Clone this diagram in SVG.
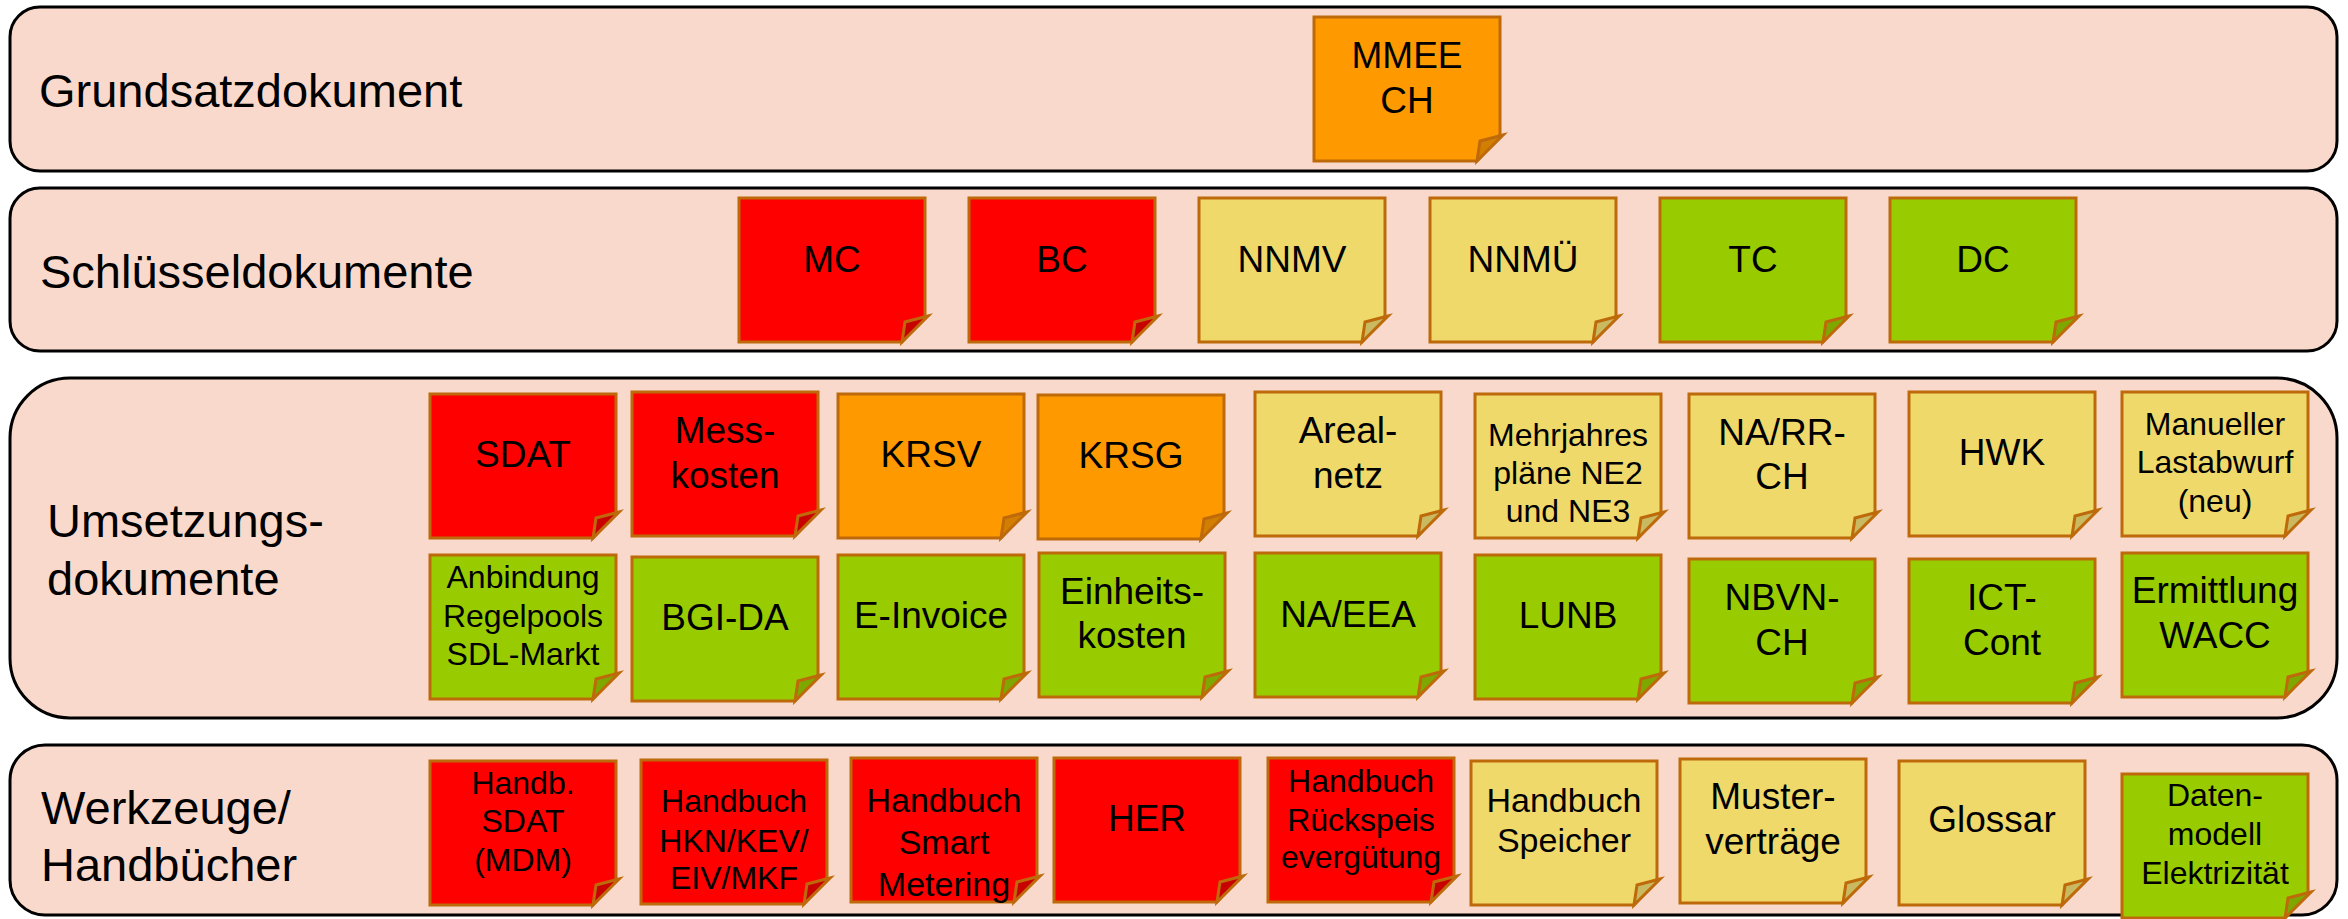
<svg xmlns="http://www.w3.org/2000/svg" xmlns:xlink="http://www.w3.org/1999/xlink" width="2348" height="919" viewBox="0 0 2348 919">
<style>
.band{fill:#F8D9CB;stroke:#000;stroke-width:3}
.lbl{font-family:"Liberation Sans",Arial,sans-serif;font-size:47px;fill:#000}
.t{font-family:"Liberation Sans",Arial,sans-serif;font-size:37px;fill:#000;text-anchor:middle}
.s{font-size:32px}
.m{font-size:34px}
.pg,.fd{stroke:#BE6A0A;stroke-width:3;stroke-linejoin:miter}
.red .p{fill:#FF0000}.red .f{fill:#C80000}
.org .p{fill:#FF9900}.org .f{fill:#D27E00}
.yel .p{fill:#EFD96A}.yel .f{fill:#C9BA62}
.grn .p{fill:#99CC00}.grn .f{fill:#7EA800}
</style>
<defs>
<path id="page" class="pg" d="M0,0 H186 V118 L163,144 H0 Z"/>
<path id="fold" class="fd" d="M189,118 L166,124 L163,144 Z"/>
</defs>
<g id="bands">
<rect id="band-grundsatz" class="band" x="10" y="7" width="2327" height="164" rx="30"/>
<rect id="band-schluessel" class="band" x="10" y="188" width="2327" height="163" rx="30"/>
<rect id="band-umsetzung" class="band" x="10" y="378" width="2327" height="340" rx="60"/>
<rect id="band-werkzeuge" class="band" x="10" y="745" width="2327" height="170" rx="35"/>
</g>
<g id="labels">
<text class="lbl" x="39" y="107">Grundsatzdokument</text>
<text class="lbl" x="40" y="288">Schlüsseldokumente</text>
<text class="lbl" x="47" y="537">Umsetzungs-</text>
<text class="lbl" x="47" y="595">dokumente</text>
<text class="lbl" x="41" y="824">Werkzeuge/</text>
<text class="lbl" x="41" y="881">Handbücher</text>
</g>
<g id="connectors"/>
<g id="n-mmee" class="org" transform="translate(1314,17)"><use class="p" href="#page"/><use class="f" href="#fold"/><text class="t" x="93" y="51">MMEE</text><text class="t" x="93" y="96">CH</text></g>

<g id="n-mc" class="red" transform="translate(739,198)"><use class="p" href="#page"/><use class="f" href="#fold"/><text class="t" x="93" y="74">MC</text></g>
<g id="n-bc" class="red" transform="translate(969,198)"><use class="p" href="#page"/><use class="f" href="#fold"/><text class="t" x="93" y="74">BC</text></g>
<g id="n-nnmv" class="yel" transform="translate(1199,198)"><use class="p" href="#page"/><use class="f" href="#fold"/><text class="t" x="93" y="74">NNMV</text></g>
<g id="n-nnmue" class="yel" transform="translate(1430,198)"><use class="p" href="#page"/><use class="f" href="#fold"/><text class="t" x="93" y="74">NNMÜ</text></g>
<g id="n-tc" class="grn" transform="translate(1660,198)"><use class="p" href="#page"/><use class="f" href="#fold"/><text class="t" x="93" y="74">TC</text></g>
<g id="n-dc" class="grn" transform="translate(1890,198)"><use class="p" href="#page"/><use class="f" href="#fold"/><text class="t" x="93" y="74">DC</text></g>

<g id="n-sdat" class="red" transform="translate(430,394)"><use class="p" href="#page"/><use class="f" href="#fold"/><text class="t" x="93" y="73">SDAT</text></g>
<g id="n-messkosten" class="red" transform="translate(632,392)"><use class="p" href="#page"/><use class="f" href="#fold"/><text class="t" x="93" y="51">Mess-</text><text class="t" x="93" y="96">kosten</text></g>
<g id="n-krsv" class="org" transform="translate(838,394)"><use class="p" href="#page"/><use class="f" href="#fold"/><text class="t" x="93" y="73">KRSV</text></g>
<g id="n-krsg" class="org" transform="translate(1038,395)"><use class="p" href="#page"/><use class="f" href="#fold"/><text class="t" x="93" y="73">KRSG</text></g>
<g id="n-arealnetz" class="yel" transform="translate(1255,392)"><use class="p" href="#page"/><use class="f" href="#fold"/><text class="t" x="93" y="51">Areal-</text><text class="t" x="93" y="96">netz</text></g>
<g id="n-mehrjahres" class="yel" transform="translate(1475,394)"><use class="p" href="#page"/><use class="f" href="#fold"/><text class="t s" x="93" y="52">Mehrjahres</text><text class="t s" x="93" y="90">pläne NE2</text><text class="t s" x="93" y="128">und NE3</text></g>
<g id="n-narr" class="yel" transform="translate(1689,394)"><use class="p" href="#page"/><use class="f" href="#fold"/><text class="t" x="93" y="51">NA/RR-</text><text class="t" x="93" y="95">CH</text></g>
<g id="n-hwk" class="yel" transform="translate(1909,392)"><use class="p" href="#page"/><use class="f" href="#fold"/><text class="t" x="93" y="73">HWK</text></g>
<g id="n-lastabwurf" class="yel" transform="translate(2122,392)"><use class="p" href="#page"/><use class="f" href="#fold"/><text class="t s" x="93" y="43">Manueller</text><text class="t s" x="93" y="81">Lastabwurf</text><text class="t s" x="93" y="120">(neu)</text></g>

<g id="n-anbindung" class="grn" transform="translate(430,555)"><use class="p" href="#page"/><use class="f" href="#fold"/><text class="t s" x="93" y="33">Anbindung</text><text class="t s" x="93" y="72">Regelpools</text><text class="t s" x="93" y="110">SDL-Markt</text></g>
<g id="n-bgida" class="grn" transform="translate(632,557)"><use class="p" href="#page"/><use class="f" href="#fold"/><text class="t" x="93" y="73">BGI-DA</text></g>
<g id="n-einvoice" class="grn" transform="translate(838,555)"><use class="p" href="#page"/><use class="f" href="#fold"/><text class="t" x="93" y="73">E-Invoice</text></g>
<g id="n-einheitskosten" class="grn" transform="translate(1039,553)"><use class="p" href="#page"/><use class="f" href="#fold"/><text class="t" x="93" y="51">Einheits-</text><text class="t" x="93" y="95">kosten</text></g>
<g id="n-naeea" class="grn" transform="translate(1255,553)"><use class="p" href="#page"/><use class="f" href="#fold"/><text class="t" x="93" y="74">NA/EEA</text></g>
<g id="n-lunb" class="grn" transform="translate(1475,555)"><use class="p" href="#page"/><use class="f" href="#fold"/><text class="t" x="93" y="73">LUNB</text></g>
<g id="n-nbvn" class="grn" transform="translate(1689,559)"><use class="p" href="#page"/><use class="f" href="#fold"/><text class="t" x="93" y="51">NBVN-</text><text class="t" x="93" y="96">CH</text></g>
<g id="n-ictcont" class="grn" transform="translate(1909,559)"><use class="p" href="#page"/><use class="f" href="#fold"/><text class="t" x="93" y="51">ICT-</text><text class="t" x="93" y="96">Cont</text></g>
<g id="n-wacc" class="grn" transform="translate(2122,553)"><use class="p" href="#page"/><use class="f" href="#fold"/><text class="t" x="93" y="50">Ermittlung</text><text class="t" x="93" y="95">WACC</text></g>

<g id="n-handbsdat" class="red" transform="translate(430,761)"><use class="p" href="#page"/><use class="f" href="#fold"/><text class="t s" x="93" y="33">Handb.</text><text class="t s" x="93" y="71">SDAT</text><text class="t s" x="93" y="110">(MDM)</text></g>
<g id="n-hkn" class="red" transform="translate(641,760)"><use class="p" href="#page"/><use class="f" href="#fold"/><text class="t s" x="93" y="52">Handbuch</text><text class="t s" x="93" y="92">HKN/KEV/</text><text class="t s" x="93" y="129">EIV/MKF</text></g>
<g id="n-smart" class="red" transform="translate(851,758)"><use class="p" href="#page"/><use class="f" href="#fold"/><text class="t m" x="93" y="54">Handbuch</text><text class="t m" x="93" y="96">Smart</text><text class="t m" x="93" y="138">Metering</text></g>
<g id="n-her" class="red" transform="translate(1054,758)"><use class="p" href="#page"/><use class="f" href="#fold"/><text class="t" x="93" y="73">HER</text></g>
<g id="n-rueckspeis" class="red" transform="translate(1268,758)"><use class="p" href="#page"/><use class="f" href="#fold"/><text class="t s" x="93" y="34">Handbuch</text><text class="t s" x="93" y="73">Rückspeis</text><text class="t s" x="93" y="110">evergütung</text></g>
<g id="n-speicher" class="yel" transform="translate(1471,761)"><use class="p" href="#page"/><use class="f" href="#fold"/><text class="t m" x="93" y="51">Handbuch</text><text class="t m" x="93" y="91">Speicher</text></g>
<g id="n-muster" class="yel" transform="translate(1680,759)"><use class="p" href="#page"/><use class="f" href="#fold"/><text class="t" x="93" y="50">Muster-</text><text class="t" x="93" y="95">verträge</text></g>
<g id="n-glossar" class="yel" transform="translate(1899,761)"><use class="p" href="#page"/><use class="f" href="#fold"/><text class="t" x="93" y="71">Glossar</text></g>
<g id="n-datenmodell" class="grn" transform="translate(2122,774)"><use class="p" href="#page"/><use class="f" href="#fold"/><text class="t s" x="93" y="32">Daten-</text><text class="t s" x="93" y="71">modell</text><text class="t s" x="93" y="110">Elektrizität</text></g>
</svg>
